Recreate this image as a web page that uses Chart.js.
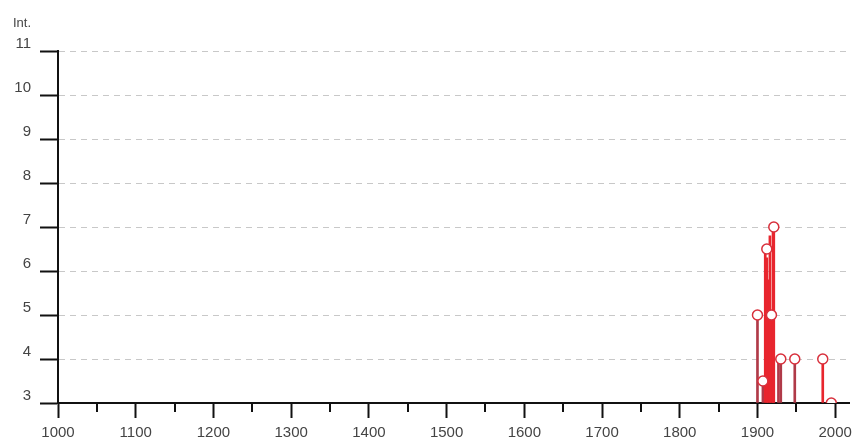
<!DOCTYPE html>
<html>
<head>
<meta charset="utf-8">
<script src="https://cdn.jsdelivr.net/npm/chart.js@4"></script>
<style>
  html, body { margin: 0; padding: 0; background: #fff; }
  #chart { display: block; }
</style>
</head>
<body>
<canvas id="chart" width="858" height="441"></canvas>
<script>
// peaks with a hollow marker
const peakYears = [1900, 1907, 1912, 1918, 1921, 1930, 1948, 1984, 1995];
const peakInt = [5, 3.5, 6.5, 5, 7, 4, 4, 4, 3];

// stems drawn down to the baseline
const brightYears = [1910, 1912, 1914, 1916, 1918, 1920, 1921, 1984];
const brightInt = [6.5, 6.3, 5.8, 6.8, 5, 6.9, 7, 4];
const darkYears = [1900, 1907, 1927, 1930, 1948];
const darkInt = [5, 3.5, 4, 4, 4];

const xTicks = [1000, 1100, 1200, 1300, 1400, 1500, 1600, 1700, 1800, 1900, 2000];
const xMinorTicks = [1050, 1150, 1250, 1350, 1450, 1550, 1650, 1750, 1850, 1950];
const yTicks = [3, 4, 5, 6, 7, 8, 9, 10, 11];

Chart.defaults.font.family = "'Liberation Sans', Arial, sans-serif";
Chart.defaults.color = "#444";

function toPoints(xs, ys) {
    return xs.map((x, i) => ({ x: x, y: ys[i] }));
}

const extras = {
    id: "extras",
    afterDraw(chart) {
        const ctx = chart.ctx;
        const x = chart.scales.x;
        ctx.save();
        ctx.strokeStyle = "#111";
        ctx.lineWidth = 2;
        xMinorTicks.forEach(v => {
            const px = Math.round(x.getPixelForValue(v));
            ctx.beginPath();
            ctx.moveTo(px, x.top);
            ctx.lineTo(px, x.top + 9);
            ctx.stroke();
        });
        ctx.fillStyle = "#444";
        ctx.font = "13px 'Liberation Sans', Arial, sans-serif";
        ctx.fillText("Int.", 13, 27);
        ctx.restore();
    }
};

new Chart(document.getElementById("chart"), {
    type: "bar",
    data: {
        datasets: [
            {
                type: "scatter",
                data: toPoints(peakYears, peakInt),
                pointRadius: 5,
                pointBorderWidth: 1.5,
                pointBorderColor: "#d8303c",
                pointBackgroundColor: "#ffffff",
                order: 0
            },
            {
                type: "bar",
                data: toPoints(brightYears, brightInt),
                base: 3,
                barThickness: 2,
                grouped: false,
                backgroundColor: "#e8262e",
                order: 1
            },
            {
                type: "bar",
                data: toPoints(darkYears, darkInt),
                base: 3,
                barThickness: 2,
                grouped: false,
                backgroundColor: "#b03a48",
                order: 2
            }
        ]
    },
    options: {
        responsive: false,
        devicePixelRatio: 1,
        animation: false,
        layout: {
            padding: { top: 51, right: 7, left: 0, bottom: 0 }
        },
        plugins: {
            legend: { display: false },
            tooltip: { enabled: false }
        },
        scales: {
            x: {
                type: "linear",
                offset: false,
                min: 1000,
                max: 2018,
                afterBuildTicks: scale => {
                    scale.ticks = xTicks.map(v => ({ value: v }));
                },
                afterFit: scale => { scale.height = 38; },
                grid: {
                    offset: false,
                    drawOnChartArea: false,
                    tickLength: 15,
                    tickWidth: 2,
                    tickColor: "#111"
                },
                border: { color: "#111", width: 2 },
                ticks: {
                    padding: 6,
                    maxRotation: 0,
                    color: "#444",
                    font: { size: 15 },
                    callback: v => String(v)
                }
            },
            y: {
                min: 3,
                max: 11,
                afterBuildTicks: scale => {
                    scale.ticks = yTicks.map(v => ({ value: v }));
                },
                afterFit: scale => { scale.width = 58; },
                grid: {
                    color: "#c8c8c8",
                    lineWidth: 1,
                    tickLength: 18,
                    tickWidth: 2,
                    tickColor: "#111"
                },
                border: { color: "#111", width: 2, dash: [6, 5] },
                ticks: {
                    padding: 9,
                    labelOffset: -7,
                    color: "#444",
                    font: { size: 15 }
                }
            }
        }
    },
    plugins: [extras]
});
</script>
</body>
</html>
